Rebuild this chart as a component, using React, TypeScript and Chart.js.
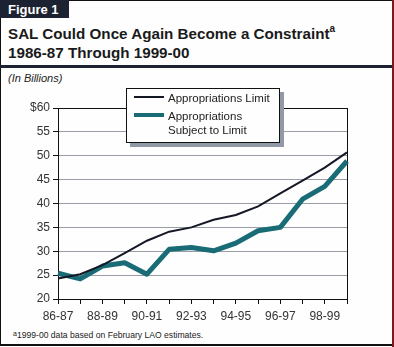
import React, { useEffect, useRef } from "react";
import { Chart, registerables } from "chart.js";

Chart.register(...registerables);

const categories = ["86-87", "87-88", "88-89", "89-90", "90-91", "91-92", "92-93", "93-94", "94-95", "95-96", "96-97", "97-98", "98-99", "99-00"];
const appropriationsLimit = [24.3, 25.2, 27.1, 29.6, 32.2, 34.1, 35.0, 36.6, 37.6, 39.4, 42.1, 44.8, 47.5, 50.7];
const subjectToLimit = [25.4, 24.2, 26.9, 27.6, 25.2, 30.4, 30.8, 30.1, 31.7, 34.3, 35.0, 40.9, 43.6, 48.9];
const yTicks = [20, 25, 30, 35, 40, 45, 50, 55, 60];

const FONT = "'Liberation Sans', Arial, Helvetica, sans-serif";
const DARK = "#1c2231";
const TEAL = "#196c76";
const LINE_BLACK = "#141824";

const framePlugin = {
  id: "frame",
  beforeDatasetsDraw(chart: any) {
    const { ctx, chartArea } = chart;
    ctx.save();
    ctx.strokeStyle = "#111";
    ctx.lineWidth = 1;
    ctx.beginPath();
    ctx.moveTo(Math.round(chartArea.right) + 0.5, chartArea.top);
    ctx.lineTo(Math.round(chartArea.right) + 0.5, chartArea.bottom);
    ctx.stroke();
    ctx.restore();
  },
};

export default function App() {
  const canvasRef = useRef<HTMLCanvasElement | null>(null);

  useEffect(() => {
    document.body.style.margin = "0";
    const canvas = canvasRef.current;
    if (!canvas) return;
    const chart = new Chart(canvas, {
      type: "line",
      data: {
        labels: categories,
        datasets: [
          {
            label: "Appropriations Limit",
            data: appropriationsLimit,
            borderColor: LINE_BLACK,
            borderWidth: 2,
            pointRadius: 0,
            tension: 0,
            fill: false,
          },
          {
            label: "Appropriations Subject to Limit",
            data: subjectToLimit,
            borderColor: TEAL,
            borderWidth: 5,
            pointRadius: 0,
            tension: 0,
            fill: false,
            borderJoinStyle: "round",
          },
        ],
      },
      options: {
        animation: false,
        responsive: false,
        maintainAspectRatio: false,
        devicePixelRatio: 1,
        layout: { padding: { top: 13, right: 45, left: 0, bottom: 0 } },
        plugins: { legend: { display: false }, tooltip: { enabled: false } },
        scales: {
          x: {
            offset: false,
            grid: {
              drawOnChartArea: false,
              drawTicks: true,
              tickLength: 5,
              color: "#111",
              tickColor: "#111",
            },
            border: { display: true, color: "#111", width: 1 },
            ticks: {
              autoSkip: false,
              maxRotation: 0,
              minRotation: 0,
              padding: 5,
              color: "#333",
              font: { family: FONT, size: 12 },
              callback: (_v: any, i: number) => (i % 2 === 0 ? categories[i] : ""),
            },
            afterFit: (scale: any) => {
              scale.height = 26;
            },
          },
          y: {
            min: yTicks[0],
            max: yTicks[yTicks.length - 1],
            afterBuildTicks: (scale: any) => {
              scale.ticks = yTicks.map((v) => ({ value: v }));
            },
            grid: {
              color: (c: any) => (c.tick && (c.tick.value === 60 || c.tick.value === 20) ? "#111" : "#9a9ca6"),
              tickColor: "#111",
              tickLength: 5,
              lineWidth: 1,
            },
            border: { display: true, color: "#111", width: 1 },
            ticks: {
              padding: 3,
              color: "#333",
              font: { family: FONT, size: 12 },
              callback: (v: any) => (v === 60 ? "$60" : String(v)),
            },
            afterFit: (scale: any) => {
              scale.width = 58;
            },
          },
        },
      },
      plugins: [framePlugin],
    });
    return () => chart.destroy();
  }, []);

  return (
    <div
      style={{
        position: "absolute",
        left: 0,
        top: 0,
        width: 394,
        height: 347,
        background: "#fefefe",
        fontFamily: FONT,
        overflow: "hidden",
      }}
    >
      <div
        style={{
          position: "absolute",
          left: 0,
          top: 0,
          width: 392,
          height: 346,
          boxSizing: "border-box",
          borderLeft: "1px solid #111",
          borderTop: "1px solid #111",
          borderBottom: "2px solid #111",
        }}
      />
      <div style={{ position: "absolute", left: 392, top: 0, width: 2, height: 347, background: "#7b1c1c" }} />
      <div
        style={{
          position: "absolute",
          left: 0,
          top: 0,
          width: 69,
          height: 18,
          background: DARK,
          color: "#fff",
          fontWeight: "bold",
          fontSize: 13,
          lineHeight: "19px",
          paddingLeft: 8,
          boxSizing: "border-box",
        }}
      >
        Figure 1
      </div>
      <div
        style={{
          position: "absolute",
          left: 8,
          top: 24,
          fontWeight: "bold",
          fontSize: 15.2,
          lineHeight: "19px",
          color: "#1a1a1a",
          whiteSpace: "nowrap",
        }}
      >
        <div>
          SAL Could Once Again Become a Constraint
          <sup style={{ fontSize: 10, verticalAlign: "top", lineHeight: "10px" }}>a</sup>
        </div>
        <div>1986-87 Through 1999-00</div>
      </div>
      <div style={{ position: "absolute", left: 0, top: 65, width: 392, height: 3, background: DARK }} />
      <div
        style={{
          position: "absolute",
          left: 8,
          top: 72,
          fontStyle: "italic",
          fontSize: 11,
          lineHeight: "13px",
          color: "#222",
        }}
      >
        (In Billions)
      </div>
      <canvas
        ref={canvasRef}
        width={392}
        height={230}
        style={{ position: "absolute", left: 0, top: 95, width: 392, height: 230 }}
      />
      <div
        style={{
          position: "absolute",
          left: 126,
          top: 88,
          width: 154,
          height: 55,
          boxSizing: "border-box",
          border: "1px solid #111",
          background: "#fefefe",
          boxShadow: "4px 4px 0 #9198a6",
          fontSize: 11.5,
          color: "#222",
        }}
      >
        <div style={{ position: "absolute", left: 7, top: 7, width: 30, height: 2, background: LINE_BLACK }} />
        <div style={{ position: "absolute", left: 41, top: 2, lineHeight: "14px", whiteSpace: "nowrap" }}>
          Appropriations Limit
        </div>
        <div style={{ position: "absolute", left: 7, top: 24, width: 30, height: 4, background: TEAL }} />
        <div style={{ position: "absolute", left: 41, top: 20, lineHeight: "14px", whiteSpace: "nowrap" }}>
          Appropriations
          <br />
          Subject to Limit
        </div>
      </div>
      <div
        style={{
          position: "absolute",
          left: 13,
          top: 330,
          fontSize: 8.6,
          lineHeight: "11px",
          color: "#222",
          whiteSpace: "nowrap",
        }}
      >
        <sup style={{ fontSize: 7, verticalAlign: "top", lineHeight: "7px" }}>a</sup>
        1999-00 data based on February LAO estimates.
      </div>
    </div>
  );
}
